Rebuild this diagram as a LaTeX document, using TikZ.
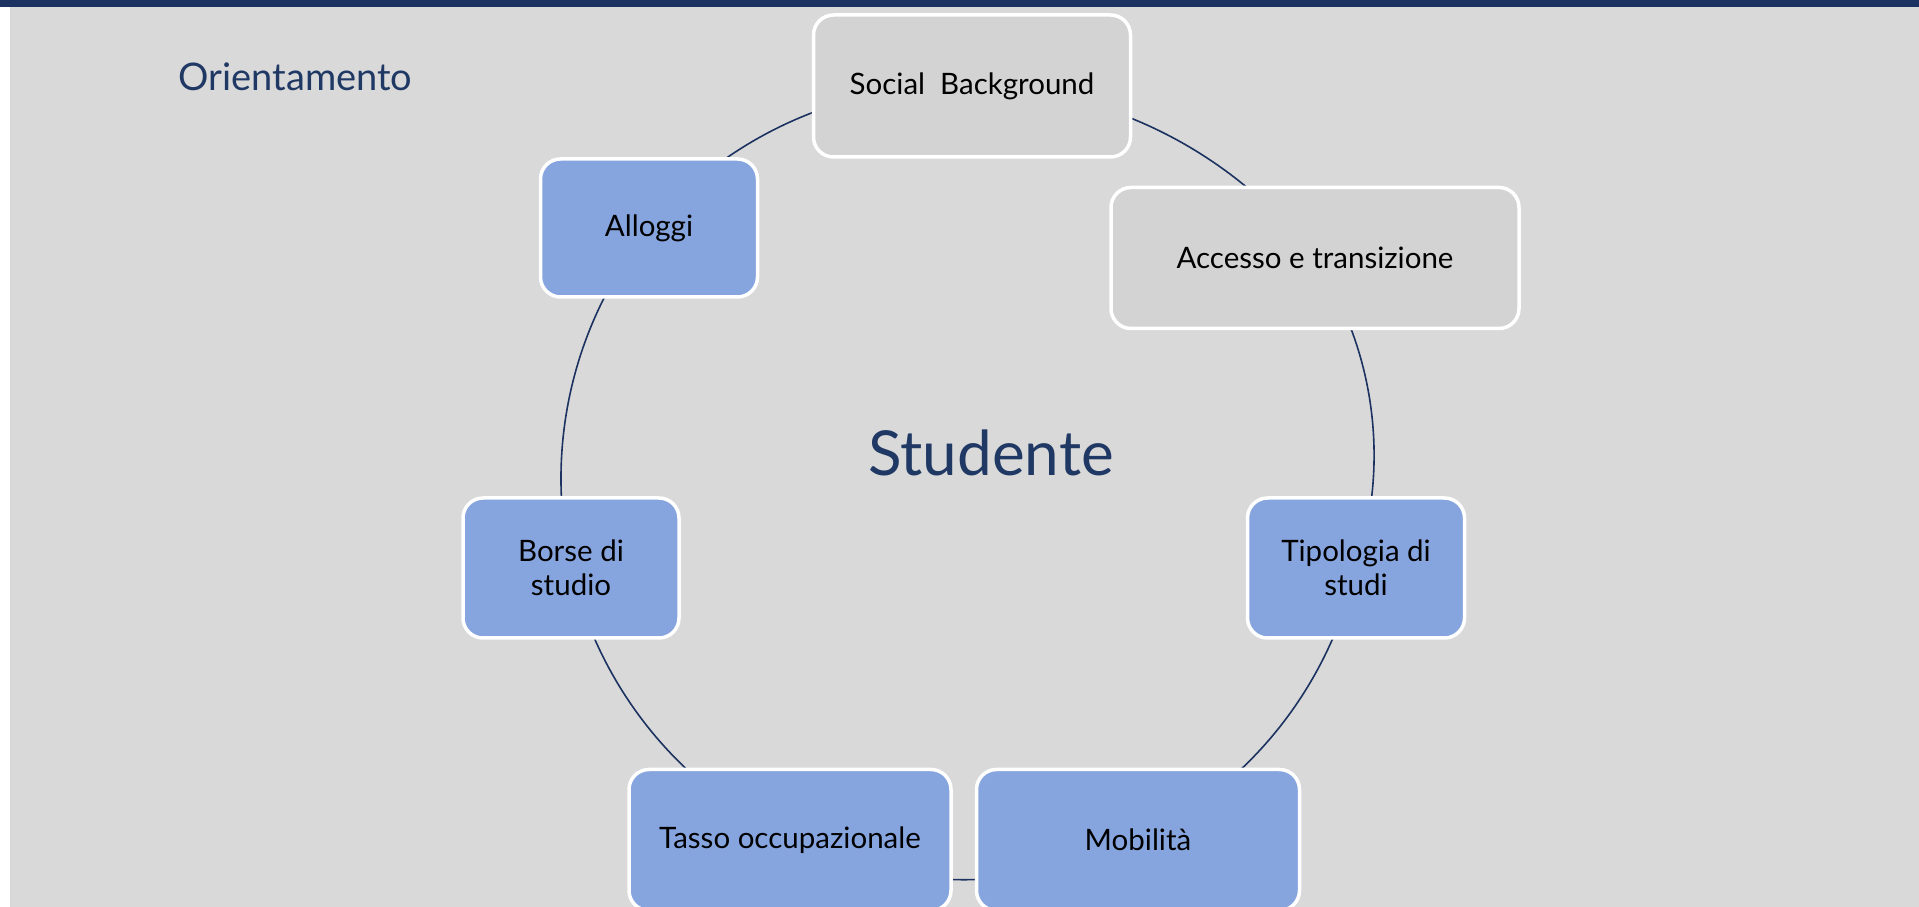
\documentclass[tikz,border=0pt]{standalone}
\usepackage{fontspec}
\setmainfont{Lato}
\usepackage{tikz}
\usetikzlibrary{positioning, backgrounds}
\definecolor{barnavy}{RGB}{28,50,97}
\definecolor{slidegrey}{RGB}{217,217,217}
\definecolor{boxgrey}{RGB}{211,211,211}
\definecolor{boxblue}{RGB}{134,165,223}
\definecolor{titlenavy}{RGB}{31,56,100}
\tikzset{
  greybox/.style={rectangle, rounded corners=20pt, draw=white, line width=3.5pt,
                  fill=boxgrey, align=center, text=black,
                  font=\fontsize{29.5}{34}\selectfont},
  bluebox/.style={greybox, fill=boxblue},
  ring/.style={draw=barnavy, line width=1.6pt, bend left=25.7, looseness=0.9},
}

\begin{document}
\begin{tikzpicture}[x=1pt, y=1pt]
  \useasboundingbox (0,0) rectangle (1919,907);

  \node[text=titlenavy, anchor=west, font=\fontsize{38}{44}\selectfont] (title) at (175,830)
        {Orientamento};
  \node[text=titlenavy, font=\fontsize{62}{72}\selectfont] (stud) at (991,454) {Studente};

  % cycle
  \node[greybox, minimum width=317pt, minimum height=142pt] (soc) at (972,821)
        {Social\ \ Background};
  \node[greybox, minimum width=408pt, minimum height=141pt] (acc) at (1315,649)
        {Accesso e transizione};
  \node[bluebox, minimum width=217pt, minimum height=140pt] (tip) at (1356,339)
        {Tipologia di\\studi};
  \node[bluebox, minimum width=323pt, minimum height=141pt] (mob) at (1138,67)
        {Mobilità};
  \node[bluebox, minimum width=322pt, minimum height=141pt] (tas) at (790,67)
        {Tasso occupazionale};
  \node[bluebox, minimum width=216pt, minimum height=140pt] (bor) at (571,339)
        {Borse di\\studio};
  \node[bluebox, minimum width=217pt, minimum height=138pt] (all) at (649,679)
        {Alloggi};

  \begin{scope}[on background layer]
    % slide background
    \fill[white] (0,0) rectangle (1919,907);
    \fill[slidegrey] (10,0) rectangle (1919,900);
    \fill[barnavy] (0,900) rectangle (1919,907);
    % ring between the boxes
    \draw[ring] (soc.center) to (acc.center);
    \draw[ring] (acc.center) to (tip.center);
    \draw[ring] (tip.center) to (mob.center);
    \draw[ring] (mob.center) to (tas.center);
    \draw[ring] (tas.center) to (bor.center);
    \draw[ring] (bor.center) to (all.center);
    \draw[ring] (all.center) to (soc.center);
  \end{scope}
\end{tikzpicture}
\end{document}
